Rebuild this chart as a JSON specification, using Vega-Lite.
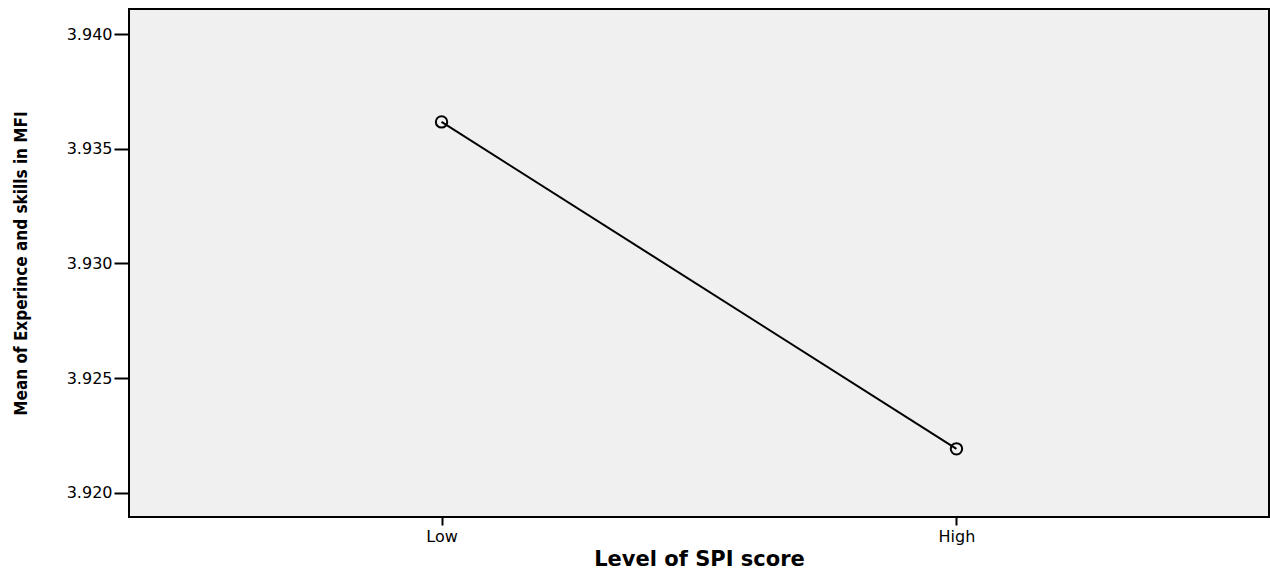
{
  "$schema": "https://vega.github.io/schema/vega-lite/v6.json",
  "width": 1140,
  "height": 508,
  "autosize": {"type": "none"},
  "padding": {"left": 129, "top": 9, "right": 1, "bottom": 55},
  "background": "white",
  "config": {
    "view": {"fill": "#f0f0f0", "stroke": "black", "strokeWidth": 2},
    "axis": {"grid": false, "domain": false, "labelFont": "DejaVu Sans", "labelColor": "black", "tickColor": "black"}
  },
  "data": {"values": [
    {"level": "Low", "mean": 3.93617},
    {"level": "High", "mean": 3.92192}
  ]},
  "encoding": {
    "x": {
      "field": "level", "type": "ordinal", "sort": ["Low", "High"],
      "scale": {"type": "point", "padding": 0.607},
      "axis": {"title": "Level of SPI score", "labelAngle": 0, "labelFontSize": 16, "tickSize": 8, "tickWidth": 2, "labelPadding": 3,
        "titleFont": "DejaVu Sans", "titleFontSize": 21, "titleFontWeight": "bold", "titleColor": "black", "titlePadding": 4}
    },
    "y": {
      "field": "mean", "type": "quantitative",
      "scale": {"domain": [3.91895, 3.94109], "nice": false, "zero": false},
      "axis": {"title": "Mean of Experince and skills in MFI", "values": [3.92, 3.925, 3.93, 3.935, 3.94], "format": ".3f",
        "labelFontSize": 16, "tickSize": 15, "tickWidth": 2, "labelPadding": 2,
        "titleFont": "DejaVu Sans Condensed", "titleFontSize": 17, "titleFontWeight": "bold", "titleColor": "black", "titlePadding": 36}
    }
  },
  "layer": [
    {"mark": {"type": "line", "color": "black", "strokeWidth": 2}},
    {"mark": {"type": "point", "shape": "circle", "size": 130, "filled": false, "color": "black", "strokeWidth": 2, "opacity": 1}}
  ]
}
